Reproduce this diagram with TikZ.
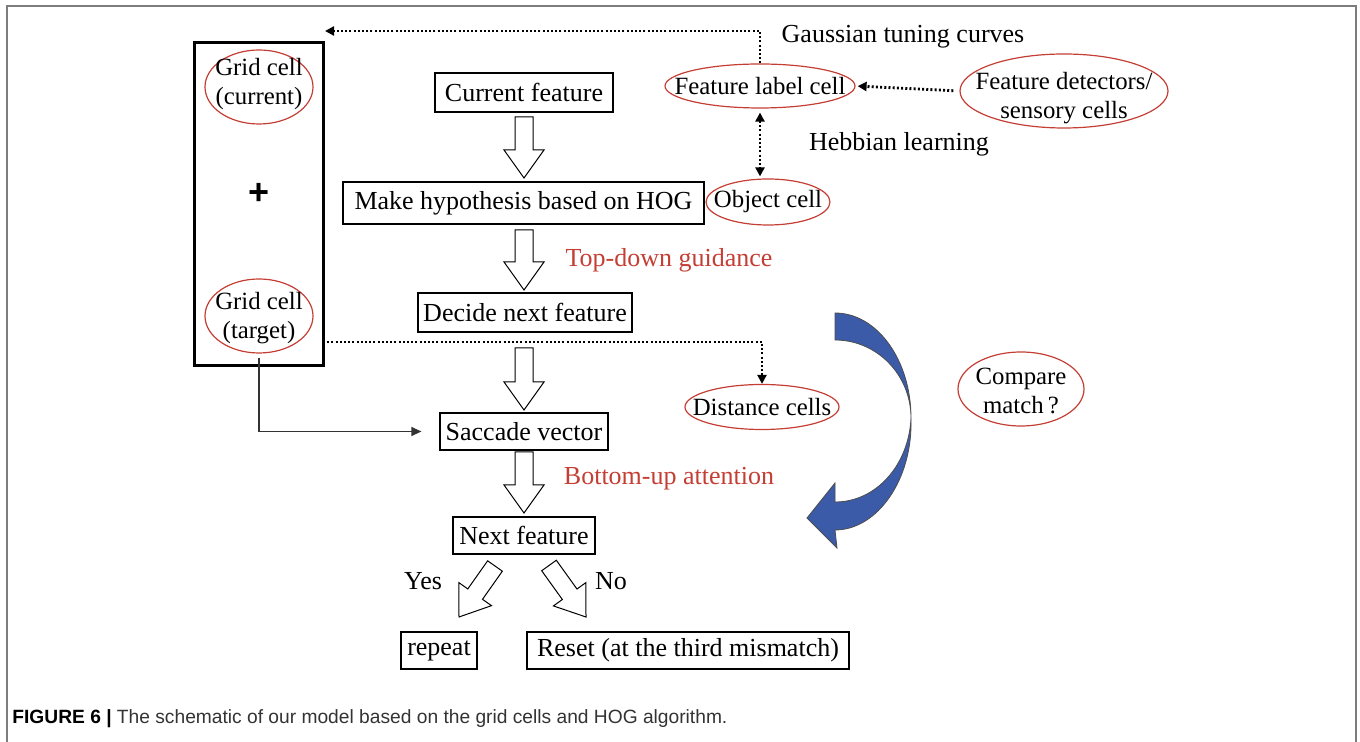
\documentclass[tikz,border=0pt]{standalone}
\usepackage{fontspec}
\setmainfont{Liberation Serif}
\newfontfamily\capfont{Liberation Sans}
\usetikzlibrary{shapes.geometric,arrows.meta,calc}
\definecolor{cred}{RGB}{196,62,52}
\definecolor{cblue}{RGB}{59,91,169}
\definecolor{framegray}{RGB}{125,125,125}
\newcommand\blockarr[2]{%
  \coordinate (hh) at ($(#2)!14pt!(#1)$);
  \draw[blockarrow] ($(#1)!4.5pt!90:(#2)$) -- ($(hh)!4.5pt!90:(#2)$) -- ($(hh)!10pt!90:(#2)$) -- (#2)
    -- ($(hh)!10pt!-90:(#2)$) -- ($(hh)!4.5pt!-90:(#2)$) -- ($(#1)!4.5pt!-90:(#2)$) -- cycle;}
\begin{document}
\begin{tikzpicture}[x=0.5pt,y=-0.5pt,
  every node/.style={font=\fontsize{13}{14.5}\selectfont},
  box/.style={draw, line width=0.6pt, inner sep=0pt, align=center},
  cell/.style={ellipse, draw=cred, line width=0.6pt, inner sep=0pt},
  lbl/.style={inner sep=0pt, align=center},
  clbl/.style={inner sep=0pt, align=center, font=\fontsize{12.4}{14.5}\selectfont},
  redlbl/.style={inner sep=0pt, text=cred},
  dots/.style={line width=1.4pt, dash pattern=on 1pt off 1.1pt},
  dtip/.style={-{Triangle[length=4.5pt,width=4.5pt]}},
  dtips/.style={{Triangle[length=4.5pt,width=4.5pt]}-{Triangle[length=4.5pt,width=4.5pt]}},
  blockarrow/.style={draw, line width=0.5pt, fill=white, line join=miter},
  solidarrow/.style={draw=black!80, line width=0.6pt, -{Triangle[length=5pt,width=4.5pt]}}
]
\useasboundingbox (0,0) rectangle (1360,742);
% outer frame
\draw[framegray, line width=1pt] (7,742) -- (7,6) -- (1356,6) -- (1356,742);

% left grid box
\node[draw, line width=1.5pt, minimum width=64.5pt, minimum height=161.5pt, inner sep=0pt] (gridbox) at (258.5,204.5) {};
\node[cell, minimum width=54pt, minimum height=37pt] (gcE) at (259,87) {};
\node[clbl] (gc) at (259,84) {Grid cell\\(current)};
\node[lbl, font=\capfont\bfseries\fontsize{18}{18}\selectfont] (plus) at (259,194) {+};
\node[cell, minimum width=54pt, minimum height=37pt] (gtE) at (259,316) {};
\node[clbl] (gt) at (259,318) {Grid cell\\(target)};

% main flow boxes
\node[box, minimum width=89pt, minimum height=19.5pt] (cf) at (524,92.5) {Current feature};
\node[box, minimum width=180.5pt, minimum height=21pt] (hyp) at (523.5,203) {Make hypothesis based on HOG};
\node[box, minimum width=107pt, minimum height=19.5pt] (dec) at (525,312.5) {Decide next feature};
\node[box, minimum width=84pt, minimum height=18.5pt] (sac) at (524,431.5) {Saccade vector};
\node[box, minimum width=71pt, minimum height=18.5pt] (nxt) at (524,535.5) {Next feature};
\node[box, minimum width=38pt, minimum height=18.5pt] (rep) at (439,650.5) {repeat};
\node[box, minimum width=161pt, minimum height=18.5pt] (rst) at (688,650.5) {Reset (at the third mismatch)};

% cells on the right
\node[cell, minimum width=95pt, minimum height=22pt] (flcE) at (760,86) {};
\node[clbl] (flc) at (760,86) {Feature label cell};
\node[cell, minimum width=104pt, minimum height=37pt] (fdE) at (1064,91) {};
\node[clbl] (fd) at (1064,98) {Feature detectors/\\sensory cells};
\node[cell, minimum width=62pt, minimum height=23pt] (objE) at (768,202) {};
\node[clbl] (obj) at (768,202) {Object cell};
\node[cell, minimum width=77pt, minimum height=22.5pt] (distE) at (762,407) {};
\node[clbl] (dist) at (762,407) {Distance cells};
\node[cell, minimum width=63pt, minimum height=37pt] (cmpE) at (1021,389) {};
\node[clbl] (cmp) at (1021,391) {Compare\\match\,?};

% labels
\node[lbl] (gauss) at (903,37) {Gaussian tuning curves};
\node[lbl] (hebb) at (899,144) {Hebbian learning};
\node[redlbl] (td) at (669,260) {Top-down guidance};
\node[redlbl] (bu) at (669,479) {Bottom-up attention};
\node[lbl] (yes) at (423,581) {Yes};
\node[lbl] (no) at (611,581) {No};

% dotted connectors
\coordinate (gridtip) at (325,31);
\draw[dots, dtip] (flcE.north) |- (gridtip);
\draw[dots, dtip, shorten <=3pt, shorten >=1pt] (fdE.west) -- (flcE.east);
\draw[dots, dtips, shorten <=2pt, shorten >=1pt] (flcE.south) -- (flcE.south |- objE.north);
\coordinate (dstart) at (323,342);
\draw[dots, dtip] (dstart) -| (distE.north);

% solid connector grid target -> saccade
\coordinate (gtb) at (259,358);
\draw[solidarrow, shorten >=9pt] (gtb) |- (sac.west);

% hollow block arrows
\coordinate (a1s) at (524,117); \coordinate (a1t) at (524,178);
\coordinate (a2s) at (524,230); \coordinate (a2t) at (524,290);
\coordinate (a3s) at (524,348); \coordinate (a3t) at (524,410);
\coordinate (a4s) at (524,452); \coordinate (a4t) at (524,513);
\coordinate (a5s) at (495,566); \coordinate (a5t) at (459,617);
\coordinate (a6s) at (549,565.5); \coordinate (a6t) at (586,617);
\blockarr{a1s}{a1t}
\blockarr{a2s}{a2t}
\blockarr{a3s}{a3t}
\blockarr{a4s}{a4t}
\blockarr{a5s}{a5t}
\blockarr{a6s}{a6t}

% blue curved arrow
\fill[cblue, draw=black!70, line width=0.4pt, line join=miter]
  (835,313) .. controls (877,313) and (911,360) .. (911,418)
  .. controls (913,480) and (877,530) .. (835,530)
  -- (837,548) -- (807,518) -- (835,483) -- (835,502)
  .. controls (877,502) and (909,464) .. (911,418)
  .. controls (911,375) and (877,340) .. (835,340) -- cycle;

% caption
\node[anchor=west, inner sep=0pt, font=\capfont\fontsize{9.6}{11}\selectfont] (cap) at (12,719)
  {\textbf{FIGURE 6 |} \textcolor{black!80}{The schematic of our model based on the grid cells and HOG algorithm.}};
\end{tikzpicture}
\end{document}
